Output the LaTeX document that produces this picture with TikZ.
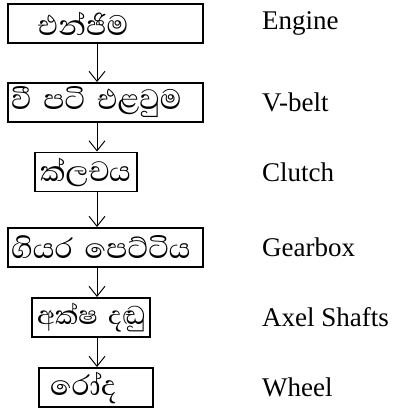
\documentclass[tikz,border=0pt]{standalone}
\usepackage{fontspec}
\setmainfont{Liberation Serif}
\newfontfamily\sinhala[Script=Sinhala]{Abhaya Libre}
\usetikzlibrary{arrows.meta}

\begin{document}
\begin{tikzpicture}[x=1pt,y=-1pt,
    stage/.style={draw, line width=1.9pt, minimum height=39pt, align=left, inner xsep=0pt, inner ysep=0pt,
        font=\sinhala\fontsize{36}{40}\selectfont},
    eng/.style={anchor=west, inner sep=0pt, font=\fontsize{27}{30}\selectfont},
    flow/.style={-{Straight Barb[length=10pt,width=16pt]}, line width=1pt}]

    \useasboundingbox (0,0) rectangle (398,410);

    % arrow column
    \coordinate (ax) at (97,0);

    % stages of the drive train
    \node[stage, text width=195pt] (engine) at (105.5,23.5) {\hspace*{30pt}එන්ජිම};
    \node[stage, text width=195pt] (vbelt) at (105.5,102.5) {\hspace*{3pt}වී පටි එළවුම};
    \node[stage, text width=102pt] (clutch) at (86,172) {\hspace*{5pt}ක්ලචය};
    \node[stage, text width=195pt] (gearbox) at (105.5,247.5) {\hspace*{3pt}ගියර පෙට්ටිය};
    \node[stage, text width=118pt, font=\sinhala\fontsize{33}{38}\selectfont] (axle) at (91,317.5) {\hspace*{5pt}අක්ෂ~දඬු};
    \node[stage, text width=114pt] (wheel) at (96,387.5) {\hspace*{11pt}රෝද};

    % flow
    \draw[flow] (engine.south -| ax) -- (vbelt.north -| ax);
    \draw[flow] (vbelt.south -| ax) -- (clutch.north -| ax);
    \draw[flow] (clutch.south -| ax) -- (gearbox.north -| ax);
    \draw[flow] (gearbox.south -| ax) -- (axle.north -| ax);
    \draw[flow] (axle.south -| ax) -- (wheel.north -| ax);

    % english names
    \node[eng] (engineL) at (262,23.5) {Engine};
    \node[eng] (vbeltL) at (262,102.5) {V-belt};
    \node[eng] (clutchL) at (262,172) {Clutch};
    \node[eng] (gearboxL) at (262,247.5) {Gearbox};
    \node[eng] (axleL) at (262,317.5) {Axel Shafts};
    \node[eng] (wheelL) at (262,387.5) {Wheel};

\end{tikzpicture}
\end{document}
